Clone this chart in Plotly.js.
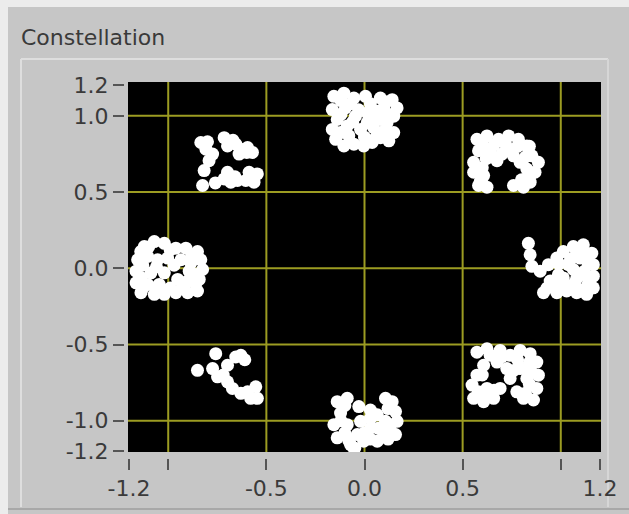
<!DOCTYPE html>
<html>
<head>
<meta charset="utf-8">
<script src="https://cdn.plot.ly/plotly-3.0.1.min.js"></script>
<style>
html,body{margin:0;padding:0;background:#c6c6c6;}
#chart{width:629px;height:514px;}
</style>
</head>
<body>
<div id="chart"></div>
<script>
// ---- Data ----
const chartTitle = 'Constellation';
const tickVals  = [-1.2, -1.0, -0.5, 0.0, 0.5, 1.0, 1.2];
const xTickText = ['-1.2', '', '-0.5', '0.0', '0.5', '', '1.2'];
const yTickText = ['-1.2', '-1.0', '-0.5', '0.0', '0.5', '1.0', '1.2'];
const gridVals  = [-1.0, -0.5, 0.0, 0.5, 1.0];

// symbol cluster at (0, 1)
const topI = [-0.156,-0.105,-0.054,0.005,0.081,0.141,0.166,0.149,0.115,0.149,0.124,0.081,0.039,-0.004,-0.054,-0.105,-0.147,-0.164,-0.139,-0.164,-0.097,-0.046,0.014,0.065,0.098,-0.088,-0.020,0.047,0.081,-0.122,0.014,
  -0.12,-0.07,0.03,0.11,0.12,-0.12,-0.06,0.04,-0.08,0.00,0.10,-0.03,0.06];
const topQ = [1.128,1.149,1.117,1.128,1.117,1.106,1.052,0.998,0.955,0.890,0.836,0.857,0.825,0.803,0.814,0.803,0.846,0.911,0.976,1.041,1.052,0.998,1.019,1.030,1.052,0.933,0.911,0.922,0.976,0.890,0.955,
  1.10,1.08,1.08,1.09,1.01,1.01,0.96,0.97,0.87,0.86,0.90,1.04,0.86];
// cluster at (0.7, 0.7)
const topRightI = [0.556,0.581,0.624,0.607,0.556,0.759,0.810,0.844,0.869,0.886,0.827,0.573,0.624,0.683,0.734,0.784,0.827,0.853,0.581,0.641,0.700,0.759,0.793,0.675,
  0.60,0.66,0.72,0.78,0.62,0.60,0.59,0.82,0.85,0.80,0.74,0.84];
const topRightQ = [0.630,0.543,0.532,0.608,0.695,0.543,0.532,0.565,0.630,0.695,0.651,0.846,0.868,0.846,0.868,0.846,0.803,0.738,0.771,0.760,0.749,0.738,0.695,0.706,
  0.81,0.81,0.81,0.80,0.72,0.66,0.57,0.73,0.62,0.58,0.77,0.80];
// cluster at (1, 0)
const rightI = [0.835,0.844,0.853,0.895,0.937,0.980,1.013,1.064,1.115,1.158,1.166,1.166,1.166,1.132,1.081,1.030,0.980,0.912,0.946,1.013,1.064,1.098,1.039,0.988,1.115,1.064,
  1.12,1.08,1.14,1.12,1.14,1.10,1.04,0.96,1.00,1.05,0.99,1.08,0.93];
const rightQ = [0.164,0.089,0.013,-0.019,0.024,0.067,0.110,0.143,0.154,0.099,0.024,-0.052,-0.128,-0.171,-0.160,-0.149,-0.160,-0.160,-0.084,-0.063,-0.008,0.067,0.024,-0.041,-0.041,-0.106,
  0.10,0.11,0.03,-0.02,-0.10,-0.14,-0.13,-0.12,-0.10,0.06,0.03,-0.07,-0.13];
// cluster at (0.7, -0.7)
const bottomRightI = [0.573,0.624,0.691,0.742,0.793,0.844,0.878,0.886,0.878,0.861,0.810,0.776,0.742,0.725,0.675,0.607,0.573,0.548,0.556,0.607,0.658,0.691,0.827,0.793,0.624,
  0.64,0.70,0.78,0.84,0.85,0.84,0.82,0.60,0.58,0.62,0.66,0.76];
const bottomRightQ = [-0.550,-0.528,-0.539,-0.571,-0.539,-0.560,-0.615,-0.701,-0.788,-0.864,-0.853,-0.810,-0.723,-0.658,-0.615,-0.636,-0.701,-0.766,-0.853,-0.875,-0.853,-0.788,-0.723,-0.658,-0.788,
  -0.57,-0.58,-0.60,-0.62,-0.68,-0.76,-0.82,-0.70,-0.81,-0.84,-0.80,-0.67];
// cluster at (0, -1)
const bottomI = [-0.139,-0.088,-0.122,-0.156,-0.139,-0.071,-0.054,-0.037,-0.020,-0.029,0.031,0.065,0.107,0.141,0.158,0.166,0.158,0.098,0.065,-0.004,0.031,0.107,-0.088,
  -0.10,-0.12,-0.10,-0.08,0.00,0.03,0.12,0.13,0.07,0.03,0.12,-0.05];
const bottomQ = [-0.875,-0.853,-0.950,-1.026,-1.112,-1.156,-1.180,-1.091,-1.004,-0.907,-0.983,-0.961,-0.853,-0.875,-0.940,-1.004,-1.091,-1.091,-1.134,-1.134,-1.047,-1.004,-1.026,
  -0.90,-1.00,-1.08,-1.13,-1.08,-1.12,-0.92,-1.05,-1.05,-0.93,-1.12,-1.18];
// cluster at (-0.7, -0.7)
const bottomLeftI = [-0.851,-0.758,-0.774,-0.749,-0.698,-0.656,-0.630,-0.698,-0.673,-0.596,-0.554,-0.546,-0.580,
  -0.61,-0.72,-0.63];
const bottomLeftQ = [-0.669,-0.560,-0.658,-0.712,-0.636,-0.582,-0.571,-0.745,-0.788,-0.810,-0.777,-0.853,-0.853,
  -0.60,-0.70,-0.82];
// cluster at (-1, 0)
const leftI = [-1.122,-1.071,-1.020,-0.961,-0.910,-0.851,-0.834,-0.825,-0.842,-0.851,-0.901,-0.961,-1.020,-1.071,-1.139,-1.164,-1.164,-1.156,-1.105,-1.054,-1.003,-0.935,-0.885,-1.088,-1.020,-0.952,-0.901,-1.105,-1.046,-0.893,
  -1.14,-1.10,-0.99,-0.88,-1.13,-1.06,-0.97,-1.13,-1.06,-0.99,-0.93,-0.86,-0.86,-1.14];
const leftQ = [0.143,0.175,0.164,0.132,0.132,0.110,0.056,-0.008,-0.073,-0.149,-0.160,-0.160,-0.171,-0.171,-0.160,-0.095,-0.019,0.056,0.078,0.056,0.067,0.056,0.034,-0.030,-0.030,-0.073,-0.084,-0.106,-0.106,-0.019,
  0.11,0.14,0.12,0.08,0.02,0.01,0.02,-0.13,-0.14,-0.13,-0.13,-0.10,-0.04,-0.06];
// cluster at (-0.7, 0.7)
const topLeftI = [-0.834,-0.808,-0.774,-0.792,-0.817,-0.825,-0.715,-0.698,-0.656,-0.630,-0.596,-0.571,-0.639,-0.715,-0.681,-0.647,-0.605,-0.563,-0.546,-0.588,-0.698,
  -0.80,-0.67,-0.60,-0.76,-0.66,-0.57];
const topLeftQ = [0.825,0.781,0.749,0.706,0.641,0.543,0.857,0.803,0.814,0.781,0.792,0.760,0.749,0.586,0.565,0.576,0.576,0.565,0.619,0.630,0.630,
  0.83,0.84,0.76,0.56,0.60,0.59];

const allI = [].concat(topI, topRightI, rightI, bottomRightI, bottomI, bottomLeftI, leftI, topLeftI);
const allQ = [].concat(topQ, topRightQ, rightQ, bottomRightQ, bottomQ, bottomLeftQ, leftQ, topLeftQ);

// ---- Styling ----
const FONT = 'DejaVu Sans, Verdana, sans-serif';
const TXT = '#3a3a3a';
const GRID = '#9c9c22';

const W = 629, H = 514;
const L = 124, R = 601, T = 82, B = 458;
const dx = (128 - L) / (R - L);
const dy = (B - 452) / (B - T);
function px2x(px){ return (px - L) / (R - L); }
function py2y(py){ return (B - py) / (B - T); }

const shapes = [];
// grid lines from gridVals
gridVals.forEach(v => {
  shapes.push({type:'line', layer:'below', xref:'x', yref:'y domain', x0:v, x1:v, y0:0, y1:1, line:{color:GRID, width:2}});
  shapes.push({type:'line', layer:'below', xref:'x domain', yref:'y', x0:0, x1:1, y0:v, y1:v, line:{color:GRID, width:2}});
});
// panel decoration
shapes.push(
  {type:'rect', xref:'paper', yref:'paper', layer:'below', x0:px2x(0), x1:px2x(W), y0:py2y(0), y1:py2y(7), line:{width:0}, fillcolor:'#ececec'},
  {type:'rect', xref:'paper', yref:'paper', layer:'below', x0:px2x(0), x1:px2x(8), y0:py2y(0), y1:py2y(H), line:{width:0}, fillcolor:'#ececec'},
  {type:'line', xref:'paper', yref:'paper', layer:'below', x0:px2x(21), x1:px2x(608), y0:py2y(59), y1:py2y(59), line:{color:'#dedede', width:2}},
  {type:'line', xref:'paper', yref:'paper', layer:'below', x0:px2x(21), x1:px2x(21), y0:py2y(59), y1:py2y(507), line:{color:'#dedede', width:2}},
  {type:'line', xref:'paper', yref:'paper', layer:'below', x0:px2x(608), x1:px2x(608), y0:py2y(59), y1:py2y(507), line:{color:'#d6d6d6', width:2}},
  {type:'line', xref:'paper', yref:'paper', layer:'below', x0:px2x(8), x1:px2x(W), y0:py2y(509), y1:py2y(509), line:{color:'#a8a8a8', width:2}}
);

const trace = {
  type: 'scatter', mode: 'markers',
  x: allI, y: allQ,
  marker: {color: '#ffffff', size: 13, line: {width: 0}},
  hoverinfo: 'skip', cliponaxis: true
};

const axisCommon = {
  anchor: 'free', position: 0,
  tickmode: 'array', tickvals: tickVals,
  ticks: 'outside', ticklen: 11, tickwidth: 2, tickcolor: '#555555',
  showgrid: false, zeroline: false, showline: false,
  tickfont: {family: FONT, size: 22, color: TXT},
  fixedrange: true
};

const layout = {
  width: W, height: H,
  margin: {l: L, r: W - R, t: T, b: H - B, pad: 0},
  paper_bgcolor: '#c6c6c6',
  plot_bgcolor: '#000000',
  showlegend: false,
  title: {
    text: chartTitle,
    font: {family: FONT, size: 22, color: TXT},
    xref: 'container', yref: 'container',
    x: 21 / W, xanchor: 'left',
    y: 1 - 37 / H, yanchor: 'middle'
  },
  xaxis: Object.assign({}, axisCommon, {domain: [dx, 1], range: [-1.205, 1.205], ticktext: xTickText}),
  yaxis: Object.assign({}, axisCommon, {domain: [dy, 1], range: [-1.205, 1.222], ticktext: yTickText}),
  shapes: shapes
};

Plotly.newPlot('chart', [trace], layout, {displayModeBar: false, staticPlot: true});
</script>
</body>
</html>
